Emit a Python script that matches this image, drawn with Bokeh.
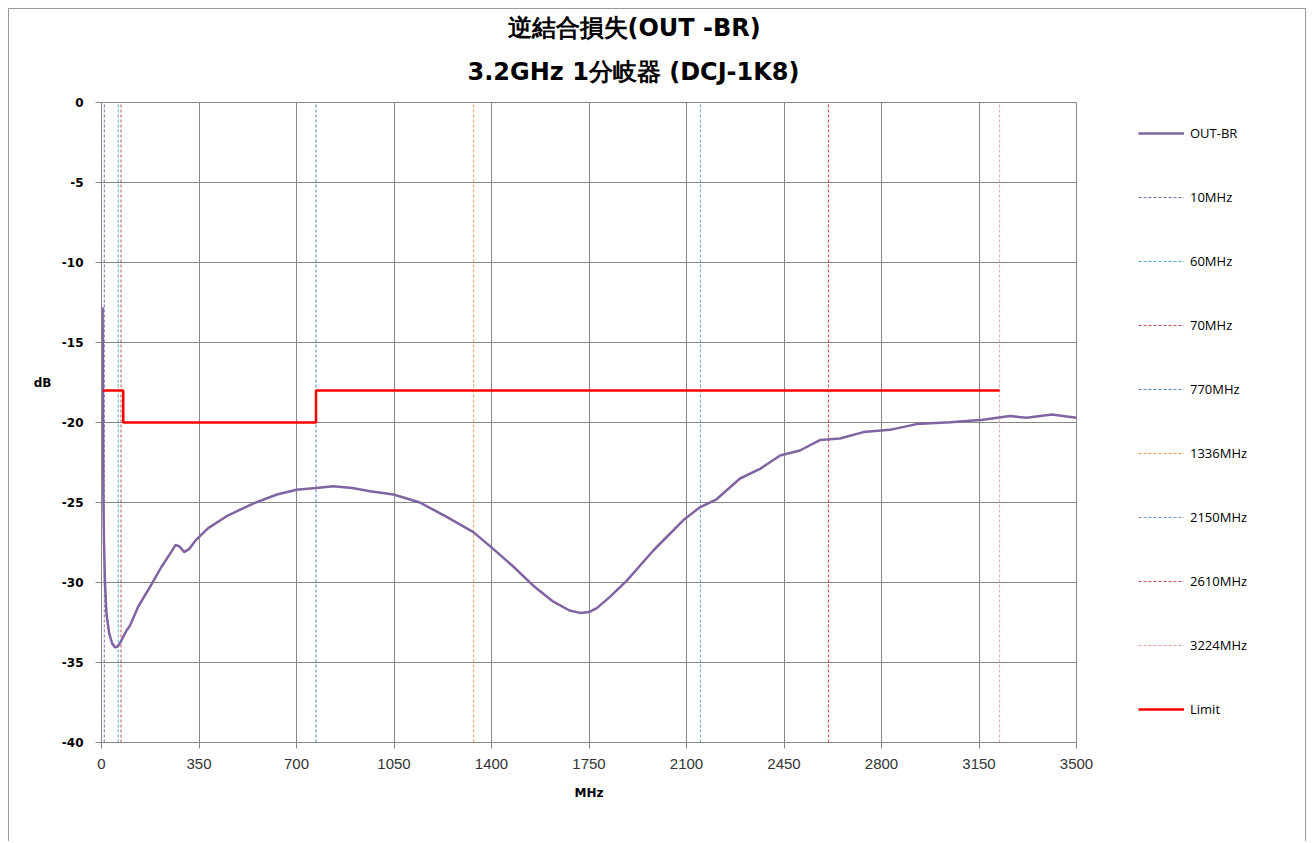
from bokeh.plotting import figure
from bokeh.layouts import row
from bokeh.models import (Range1d, FixedTicker, Legend, LegendItem, Title,
                          LinearAxis)
from bokeh.embed import file_html
from bokeh.resources import INLINE

# ---------------- data ----------------
title_lines = ["逆結合損失(OUT -BR)", "3.2GHz 1分岐器 (DCJ-1K8)"]

freq_mhz = [4, 5, 6, 7, 9, 12.5, 18, 28, 38, 48, 58, 66, 75, 90, 102,
            132, 180, 216, 250, 266, 280, 297, 315, 336, 383, 455, 515, 557,
            630, 700, 770, 832, 900, 964, 1048, 1143, 1239, 1335, 1406, 1478,
            1550, 1622, 1680, 1718, 1750, 1778, 1825, 1885, 1981, 2089, 2148,
            2208, 2292, 2364, 2436, 2507, 2579, 2651, 2735, 2830, 2926, 3046,
            3165, 3261, 3321, 3411, 3500]
out_br_db = [-12.8, -18.0, -22.0, -25.0, -27.5, -30.0, -32.0, -33.2, -33.8, -34.05,
             -34.0, -33.8, -33.5, -33.0, -32.7,
             -31.5, -30.1, -29.0, -28.1, -27.65, -27.75, -28.1, -27.9, -27.4,
             -26.6, -25.8, -25.3, -24.98,
             -24.5, -24.2, -24.1, -23.98, -24.1, -24.3, -24.5, -25.0, -25.9,
             -26.85, -27.9, -29.0,
             -30.2, -31.2, -31.75, -31.9, -31.85, -31.6, -30.9, -29.9, -28.0,
             -26.1, -25.3,
             -24.8, -23.5, -22.9, -22.06, -21.75, -21.1, -21.0, -20.6, -20.46,
             -20.1, -19.98,
             -19.83, -19.6, -19.7, -19.5, -19.7]

limit_freq = [5, 78, 78, 770, 770, 3224]
limit_db = [-18, -18, -20, -20, -18, -18]

marker_freqs = [10, 60, 70, 770, 1336, 2150, 2610, 3224]
marker_colors = ["#8064A2", "#4BACC6", "#C0504D", "#4F81BD",
                 "#F79646", "#6E9BD0", "#D05050", "#E6A5A5"]

x_ticks = [0, 350, 700, 1050, 1400, 1750, 2100, 2450, 2800, 3150, 3500]
y_ticks = [-40, -35, -30, -25, -20, -15, -10, -5, 0]

series_name = "OUT-BR"
limit_name = "Limit"
x_label = "MHz"
y_label = "dB"
y_label_pos = -17.5

CURVE_COLOR = "#8064A2"
LIMIT_COLOR = "#FF0000"
GRID = "#868686"
DASH = "3 2"


def draw_series(fig):
    """Draw marker lines, measured curve and limit on a figure; return renderers."""
    marks = []
    for f, c in zip(marker_freqs, marker_colors):
        marks.append(fig.line([f, f], [y_ticks[0], y_ticks[-1]], line_color=c,
                              line_width=1, line_dash=DASH))
    curve = fig.line(freq_mhz, out_br_db, line_color=CURVE_COLOR, line_width=2.5)
    limit = fig.line(limit_freq, limit_db, line_color=LIMIT_COLOR, line_width=2.5)
    return marks, curve, limit


# ---------------- main plot ----------------
p = figure(width=1087, height=832, title=None,
           x_range=Range1d(0, 3500), y_range=Range1d(-40, 0),
           output_backend="svg", toolbar_location=None,
           min_border_left=92, min_border_right=20,
           min_border_top=93, min_border_bottom=99,
           background_fill_color="white", border_fill_color="white")

p.outline_line_color = GRID
p.xaxis.ticker = FixedTicker(ticks=x_ticks)
p.yaxis.ticker = FixedTicker(ticks=y_ticks)
p.xgrid.ticker = FixedTicker(ticks=x_ticks)
p.ygrid.ticker = FixedTicker(ticks=y_ticks)
p.grid.grid_line_color = GRID
p.grid.grid_line_width = 1

p.axis.axis_line_color = GRID
p.axis.major_tick_line_color = GRID
p.axis.major_tick_in = 0
p.axis.major_tick_out = 6
p.axis.minor_tick_line_color = None

p.xaxis.major_label_text_font = "Liberation Sans"
p.xaxis.major_label_text_font_size = "15px"
p.xaxis.major_label_text_color = "#333333"
p.xaxis.major_label_standoff = 10
p.xaxis.axis_label = x_label
p.xaxis.axis_label_text_font = "DejaVu Sans"
p.xaxis.axis_label_text_font_style = "bold"
p.xaxis.axis_label_text_font_size = "12px"
p.xaxis.axis_label_text_color = "#000000"
p.xaxis.axis_label_standoff = 14

p.yaxis.major_label_text_font = "DejaVu Sans"
p.yaxis.major_label_text_font_style = "bold"
p.yaxis.major_label_text_font_size = "12px"
p.yaxis.major_label_text_color = "#000000"
p.yaxis.major_label_standoff = 12
p.yaxis.major_label_overrides = {v: str(v) for v in y_ticks}

# horizontal "dB" label: an extra label-only axis on the left
db_axis = LinearAxis(ticker=FixedTicker(ticks=[y_label_pos]),
                     major_label_overrides={y_label_pos: y_label},
                     axis_line_color=None, major_tick_line_color=None,
                     minor_tick_line_color=None, major_label_standoff=1,
                     major_label_text_font="DejaVu Sans",
                     major_label_text_font_style="bold",
                     major_label_text_font_size="12px",
                     major_label_text_color="#000000")
p.add_layout(db_axis, "left")

# titles (line 2 nearest the plot, line 1 above it)
p.add_layout(Title(text=title_lines[1], align="left", offset=366,
                   text_font="DejaVu Sans", text_font_style="bold",
                   text_font_size="24px", text_color="#000000",
                   text_line_height=1.0, standoff=33), "above")
p.add_layout(Title(text=title_lines[0], align="left", offset=406,
                   text_font="DejaVu Sans", text_font_style="bold",
                   text_font_size="24px", text_color="#000000",
                   text_line_height=1.0, standoff=-5), "above")

draw_series(p)

# ---------------- legend panel ----------------
# same series drawn on a panel whose ranges keep them out of view; only the
# legend of this panel is visible
q = figure(width=209, height=832, x_range=Range1d(0, 1), y_range=Range1d(0, 1),
           output_backend="svg", toolbar_location=None,
           min_border=0, background_fill_color="white",
           border_fill_color="white")
q.axis.visible = False
q.grid.visible = False
q.outline_line_color = None

q_marks, q_curve, q_limit = draw_series(q)
items = [LegendItem(label=series_name, renderers=[q_curve])]
for f, r in zip(marker_freqs, q_marks):
    items.append(LegendItem(label=f"{f}MHz", renderers=[r]))
items.append(LegendItem(label=limit_name, renderers=[q_limit]))

legend = Legend(items=items, location=(42, 23), orientation="vertical",
                glyph_width=46, glyph_height=20, label_height=20, spacing=44,
                padding=0, margin=0, label_standoff=6,
                border_line_color=None, background_fill_alpha=0,
                label_text_font="Open Sans", label_text_font_size="13px",
                label_text_color="#000000")
q.add_layout(legend)

layout = row(p, q, styles={"margin-left": "8px", "margin-top": "8px",
                           "border-left": "1px solid #9a9a9a",
                           "border-right": "1px solid #9a9a9a",
                           "border-top": "1px solid #9a9a9a"})

open("out.html", "w").write(file_html(layout, INLINE))
